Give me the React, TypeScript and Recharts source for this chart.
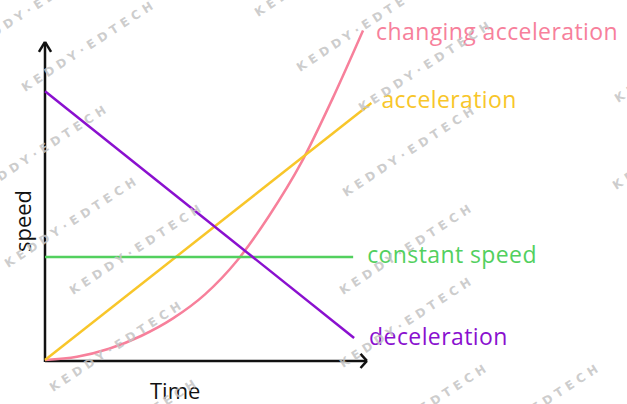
import React from "react";
import { LineChart, Line, XAxis, YAxis, ReferenceLine } from "recharts";

// speed-time graph, values (x: time, y: speed)
const changingTime = [0, 1, 2, 3, 4, 5, 6, 7, 8, 9, 9.94];
const changingSpeed = [0, 0.1, 0.35, 0.75, 1.3, 2.05, 3.1, 4.5, 6.15, 8.2, 10.3];
const accelTime = [0, 10.2];
const accelSpeed = [0, 8.03];
const constantTime = [0, 9.63];
const constantSpeed = [3.22, 3.22];
const decelTime = [0, 9.66];
const decelSpeed = [8.4, 0.69];

const series = [
  { name: "changing acceleration", time: changingTime, speed: changingSpeed, color: "#f7809b", dx: 13, dy: 10 },
  { name: "acceleration", time: accelTime, speed: accelSpeed, color: "#f8c62a", dx: 10, dy: 5 },
  { name: "constant speed", time: constantTime, speed: constantSpeed, color: "#52d05e", dx: 14, dy: 6 },
  { name: "deceleration", time: decelTime, speed: decelSpeed, color: "#8a10cf", dx: 15, dy: 7 },
];

const watermarks: [number, number][] = [
  [-28, 52], [25, 92], [-22, 196], [8, 268], [73, 295], [53, 392], [68, 470],
  [258, 17], [300, 72], [362, 112], [346, 197], [343, 295], [343, 368],
  [358, 455], [470, 455], [618, 103], [616, 190],
];

const FONT = "'Open Sans', sans-serif";

function endLabel(last: number, text: string, color: string, dx: number, dy: number) {
  return (props: any) => {
    if (props.index !== last) return <g />;
    return (
      <text x={props.x + dx} y={props.y + dy} fill={color} fontSize={23} letterSpacing={0.4} fontFamily={FONT}>
        {text}
      </text>
    );
  };
}

export default function App() {
  return (
    <div style={{ position: "absolute", left: 0, top: 0, width: 627, height: 404, background: "#fff" }}>
      <LineChart width={627} height={404} margin={{ top: 24, right: 230, bottom: 28, left: 29 }}>
        <XAxis type="number" dataKey="t" domain={[-0.5, 11]} hide allowDataOverflow />
        <YAxis type="number" dataKey="v" domain={[-0.5, 10.5]} hide allowDataOverflow />
        {/* axes with arrow heads */}
        <ReferenceLine segment={[{ x: 0, y: -0.06 }, { x: 0, y: 9.94 }]} stroke="#111" strokeWidth={2.5} ifOverflow="visible" />
        <ReferenceLine segment={[{ x: -0.19, y: 9.63 }, { x: 0, y: 9.94 }]} stroke="#111" strokeWidth={2.5} ifOverflow="visible" />
        <ReferenceLine segment={[{ x: 0.19, y: 9.63 }, { x: 0, y: 9.94 }]} stroke="#111" strokeWidth={2.5} ifOverflow="visible" />
        <ReferenceLine segment={[{ x: 0, y: -0.03 }, { x: 10.06, y: -0.03 }]} stroke="#111" strokeWidth={2.5} ifOverflow="visible" />
        <ReferenceLine segment={[{ x: 9.86, y: 0.19 }, { x: 10.06, y: -0.03 }]} stroke="#111" strokeWidth={2.5} ifOverflow="visible" />
        <ReferenceLine segment={[{ x: 9.86, y: -0.25 }, { x: 10.06, y: -0.03 }]} stroke="#111" strokeWidth={2.5} ifOverflow="visible" />
        {series.map((s) => (
          <Line
            key={s.name}
            data={s.time.map((t, i) => ({ t, v: s.speed[i] }))}
            dataKey="v"
            type="monotone"
            stroke={s.color}
            strokeWidth={2.5}
            dot={false}
            isAnimationActive={false}
            label={endLabel(s.time.length - 1, s.name, s.color, s.dx, s.dy)}
          />
        ))}
      </LineChart>
      <svg width={627} height={404} style={{ position: "absolute", left: 0, top: 0, pointerEvents: "none" }}>
        <text x={150} y={399} fontSize={22} fontFamily={FONT} fill="#111">Time</text>
        <text x={0} y={0} fontSize={22} fontFamily={FONT} fill="#111" textAnchor="middle" transform="translate(31 221) rotate(-90)">
          speed
        </text>
        {watermarks.map(([x, y], i) => (
          <text
            key={i}
            x={x}
            y={y}
            transform={`rotate(-33 ${x} ${y})`}
            fontSize={12}
            fontWeight="bold"
            fontFamily="'DejaVu Sans', sans-serif"
            letterSpacing={4.6}
            fill="#c4c4c4"
            fillOpacity={0.85}
          >
            KEDDY·EDTECH
          </text>
        ))}
      </svg>
    </div>
  );
}
